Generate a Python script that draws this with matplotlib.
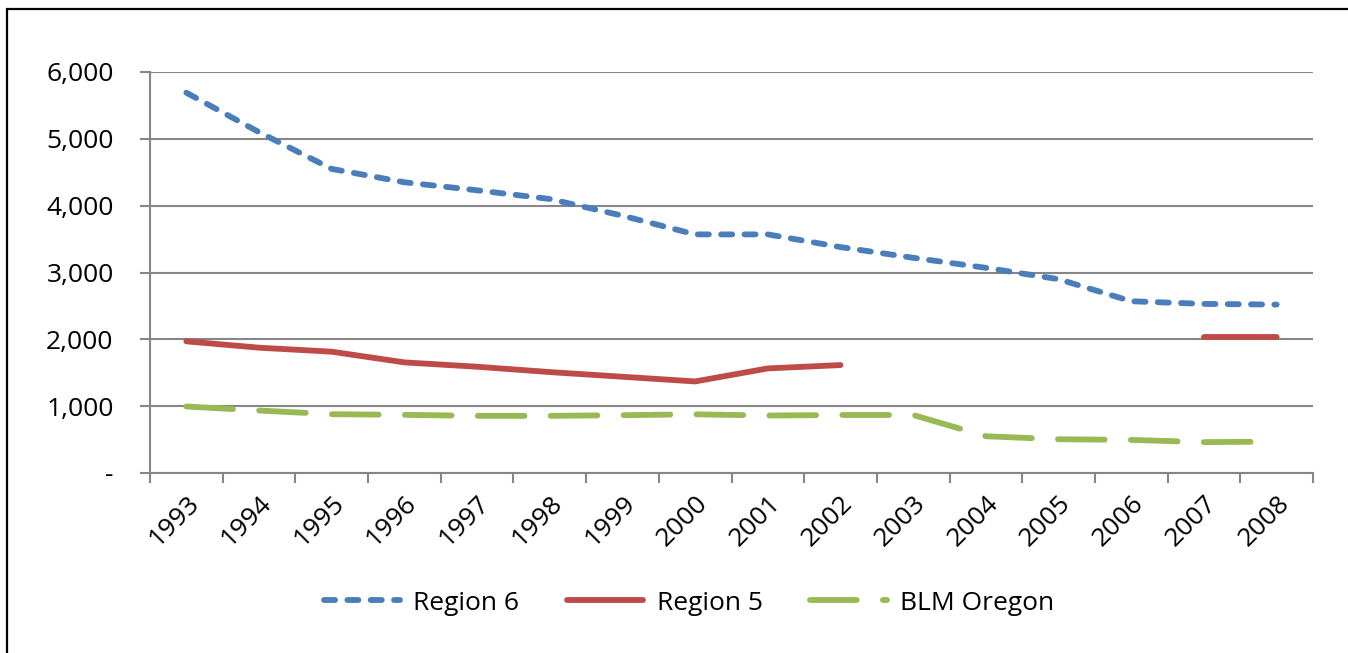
import numpy as np
import matplotlib
matplotlib.use("Agg")
import matplotlib.pyplot as plt
from matplotlib.patches import Rectangle
from matplotlib.ticker import FuncFormatter

years = ["1993", "1994", "1995", "1996", "1997", "1998", "1999", "2000",
         "2001", "2002", "2003", "2004", "2005", "2006", "2007", "2008"]
region6 = [5690, 5100, 4550, 4350, 4230, 4100, 3850, 3570,
           3570, 3380, 3220, 3070, 2900, 2570, 2530, 2520]
region5 = [1970, 1875, 1815, 1655, 1590, 1510, 1440, 1370,
           1565, 1615, np.nan, np.nan, np.nan, np.nan, 2035, 2035]
blm_oregon = [995, 935, 880, 870, 855, 855, 865, 878,
              860, 868, 868, 550, 505, 495, 462, 470]

plt.rcParams["font.family"] = ["Open Sans", "DejaVu Sans"]

W, H = 1348, 653
fig = plt.figure(figsize=(W / 100, H / 100), dpi=100)

# outer chart frame
fig.patches.append(Rectangle((7 / W, -0.05), 1.2, 1 - 9 / H + 0.05,
                             transform=fig.transFigure, fill=False,
                             edgecolor="black", linewidth=1.6))

ax = fig.add_axes([150 / W, 1 - 473 / H, (1313 - 150) / W, (473 - 72) / H])

x = np.arange(len(years))
grid_c = "#868686"
lw = 4.2
fs = 19

ax.plot(x, region6, color="#4A7EBB", linewidth=lw, linestyle=(0, (1.9, 2.1)),
        dash_capstyle="round", solid_capstyle="round", label="Region 6")
ax.plot(x, region5, color="#BE4B48", linewidth=lw, solid_capstyle="round",
        label="Region 5")
ax.plot(x, blm_oregon, color="#98B954", linewidth=lw, linestyle=(0, (8.0, 4.5)),
        dash_capstyle="round", solid_capstyle="round", label="BLM Oregon")

ax.set_xlim(-0.5, len(years) - 0.5)
ax.set_ylim(0, 6000)
ax.set_yticks(np.arange(0, 6001, 1000))
ax.yaxis.set_major_formatter(FuncFormatter(lambda v, p: "-" if v == 0 else f"{int(v):,}"))
ax.yaxis.grid(True, color=grid_c, linewidth=1.5)
ax.set_axisbelow(True)

ax.set_xticks(x)
ax.set_xticklabels(years, rotation=45, ha="right", va="top", rotation_mode="anchor")
ax.set_xticks(np.arange(-0.5, len(years)), minor=True)
ax.tick_params(axis="x", which="major", length=0, pad=13, labelsize=fs)
ax.tick_params(axis="x", which="minor", length=7.2, width=1.5, color=grid_c, direction="out")
ax.tick_params(axis="y", length=7.2, width=1.5, color=grid_c, labelsize=fs, pad=19)

for s in ["top", "right"]:
    ax.spines[s].set_visible(False)
for s in ["left", "bottom"]:
    ax.spines[s].set_color(grid_c)
    ax.spines[s].set_linewidth(1.5)

leg = fig.legend(loc="center", bbox_to_anchor=(0.511, 1 - 603 / H), ncol=3,
                 frameon=False, fontsize=fs, handlelength=2.9, handletextpad=0.5,
                 columnspacing=1.8)

fig.savefig("out.png", dpi=100)
